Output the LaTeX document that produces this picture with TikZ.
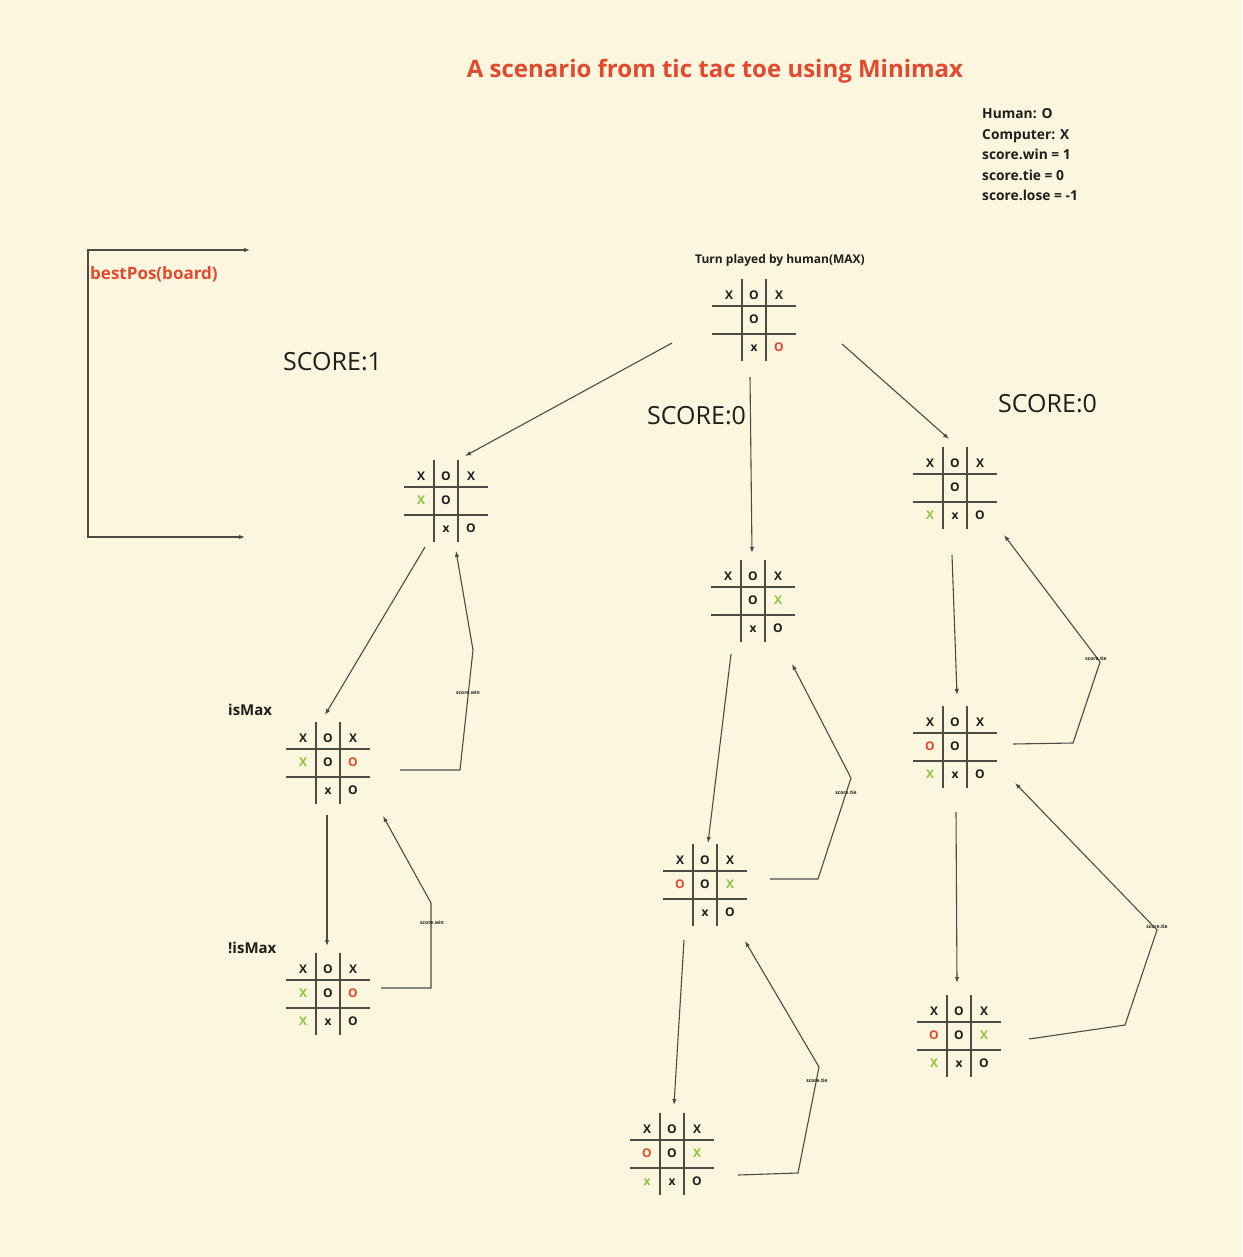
\documentclass[tikz,border=0pt]{standalone}
\usepackage{fontspec}
\setmainfont{Open Sans}
\usepackage{xcolor}
\usetikzlibrary{arrows.meta}
\definecolor{bgcol}{HTML}{FDF6DE}
\definecolor{mmred}{HTML}{E2492F}
\definecolor{mmgreen}{HTML}{8CC63F}
\definecolor{ink}{HTML}{4C4B46}
\definecolor{txt}{HTML}{1E1E1C}
\tikzset{edge/.style={draw=ink, line width=1.1pt, ->},
  ttline/.style={draw=ink, line width=1.6pt},
  cell/.style={font=\fontsize{12}{12}\bfseries, text=txt, anchor=base, inner sep=0pt},
  boardbox/.style={minimum width=84pt, minimum height=82pt, inner sep=0pt},
  scorelbl/.style={font=\fontsize{5}{5}\bfseries, text=txt, inner sep=0pt},
  scoretext/.style={font=\fontsize{25}{30}\selectfont, text=txt, inner sep=0pt, anchor=base west},
  legend/.style={font=\fontsize{13.8}{16}\bfseries, text=txt, inner sep=0pt, anchor=base west},
  flag/.style={font=\fontsize{15}{18}\bfseries, text=txt, inner sep=0pt, anchor=base west}}
\newcommand{\rO}{\textcolor{mmred}{O}}
\newcommand{\gX}{\textcolor{mmgreen}{X}}
\newcommand{\gx}{\textcolor{mmgreen}{x}}
\newcommand{\tttboard}[3]{%
  \node[boardbox] (#1) at (#2) {};
  \begin{scope}[shift={(#2)}]
    \draw[ttline] (-12,-41) -- (-12,41);
    \draw[ttline] (12,-41) -- (12,41);
    \draw[ttline] (-42,-14) -- (42,-14);
    \draw[ttline] (-42,14) -- (42,14);
    \foreach \c [count=\i from 0] in {#3} {
      \pgfmathtruncatemacro{\col}{mod(\i,3)}
      \pgfmathtruncatemacro{\row}{int(\i/3)}
      \node[cell] at ({(\col-1)*25},{-20.5+24*\row+2*\row*(\row-1)}) {\c};
    }
  \end{scope}}

\begin{document}
\begin{tikzpicture}[x=1pt, y=-1pt, >={Latex[length=6pt,width=4.5pt]}]
\fill[bgcol] (0,0) rectangle (1242,1257);
\node[font=\fontsize{24}{28}\bfseries, text=mmred, anchor=base] (title) at (715,78) {A scenario from tic tac toe using Minimax};
\foreach \t [count=\i] in {Human: O, Computer: X, score.win = 1, score.tie = 0, score.lose = -1}
  \node[legend] (leg\i) at (982,{98.5+20.5*\i}) {\t};
\node[font=\fontsize{12}{14}\bfseries, text=txt, anchor=base] (turn) at (780,263) {Turn played by human(MAX)};

% left bracket
\coordinate (bpA) at (250,250);
\coordinate (bpB) at (88,250);
\coordinate (bpC) at (88,537);
\coordinate (bpD) at (245,537);
\draw[edge, <->] (bpA) -- (bpB) -- (bpC) -- (bpD);
\node[font=\fontsize{17}{20}\bfseries, text=mmred, inner sep=0pt, anchor=base west] (best) at (90,279) {bestPos(board)};

\node[scoretext] (scoreL) at (283,370.5) {SCORE:1};
\node[scoretext] (scoreM) at (647,424.5) {SCORE:0};
\node[scoretext] (scoreR) at (998,412.5) {SCORE:0};
\node[flag] (ismax) at (228,715) {isMax};
\node[flag] (notmax) at (228,953) {!isMax};

\tttboard{top}{754,320}{X,O,X,,O,,,x,\rO}
\tttboard{l1}{446,501}{X,O,X,\gX,O,,,x,O}
\tttboard{l2}{328,763}{X,O,X,\gX,O,\rO,,x,O}
\tttboard{l3}{328,994}{X,O,X,\gX,O,\rO,\gX,x,O}
\tttboard{m1}{753,601}{X,O,X,,O,\gX,,x,O}
\tttboard{m2}{705,885}{X,O,X,\rO,O,\gX,,x,O}
\tttboard{m3}{672,1154}{X,O,X,\rO,O,\gX,\gx,x,O}
\tttboard{r1}{955,488}{X,O,X,,O,,\gX,x,O}
\tttboard{r2}{955,747}{X,O,X,\rO,O,,\gX,x,O}
\tttboard{r3}{959,1036}{X,O,X,\rO,O,\gX,\gX,x,O}

% moves
\draw[edge] ([shift={(-82,23)}]top.center) -- ([shift={(19,-45)}]l1.center);
\draw[edge] ([shift={(-4,57)}]top.center) -- ([shift={(-1,-48)}]m1.center);
\draw[edge] ([shift={(88,24)}]top.center) -- ([shift={(-6,-49)}]r1.center);
\draw[edge] ([shift={(-21,46)}]l1.center) -- ([shift={(-3,-48)}]l2.center);
\draw[edge] ([shift={(-1,52)}]l2.center) -- ([shift={(-1,-48)}]l3.center);
\draw[edge] ([shift={(-22,53)}]m1.center) -- ([shift={(3,-42)}]m2.center);
\draw[edge] ([shift={(-21,55)}]m2.center) -- ([shift={(2,-49)}]m3.center);
\draw[edge] ([shift={(-3,67)}]r1.center) -- ([shift={(2,-52)}]r2.center);
\draw[edge] ([shift={(1,65)}]r2.center) -- ([shift={(-2,-53)}]r3.center);

% scores going back up
\draw[edge] ([shift={(72,7)}]l2.center) -- (460,770) -- (473,650) -- ([shift={(10,50)}]l1.center);
\node[scorelbl] (winA) at (468,693) {score.win};
\draw[edge] ([shift={(53,-6)}]l3.center) -- (431,988) -- (431,903) -- ([shift={(55,53)}]l2.center);
\node[scorelbl] (winB) at (432,923) {score.win};
\draw[edge] ([shift={(65,-6)}]m2.center) -- (818,879) -- (851,778) -- ([shift={(39,63)}]m1.center);
\node[scorelbl] (tieA) at (846,793) {score.tie};
\draw[edge] ([shift={(66,21)}]m3.center) -- (798,1173) -- (819,1067) -- ([shift={(40,56)}]m2.center);
\node[scorelbl] (tieB) at (817,1081) {score.tie};
\draw[edge] ([shift={(58,-3)}]r2.center) -- (1073,743) -- (1100,662) -- ([shift={(49,47)}]r1.center);
\node[scorelbl] (tieC) at (1096,659) {score.tie};
\draw[edge] ([shift={(70,3)}]r3.center) -- (1125,1025) -- (1157,930) -- ([shift={(60,36)}]r2.center);
\node[scorelbl] (tieD) at (1157,927) {score.tie};
\end{tikzpicture}
\end{document}
